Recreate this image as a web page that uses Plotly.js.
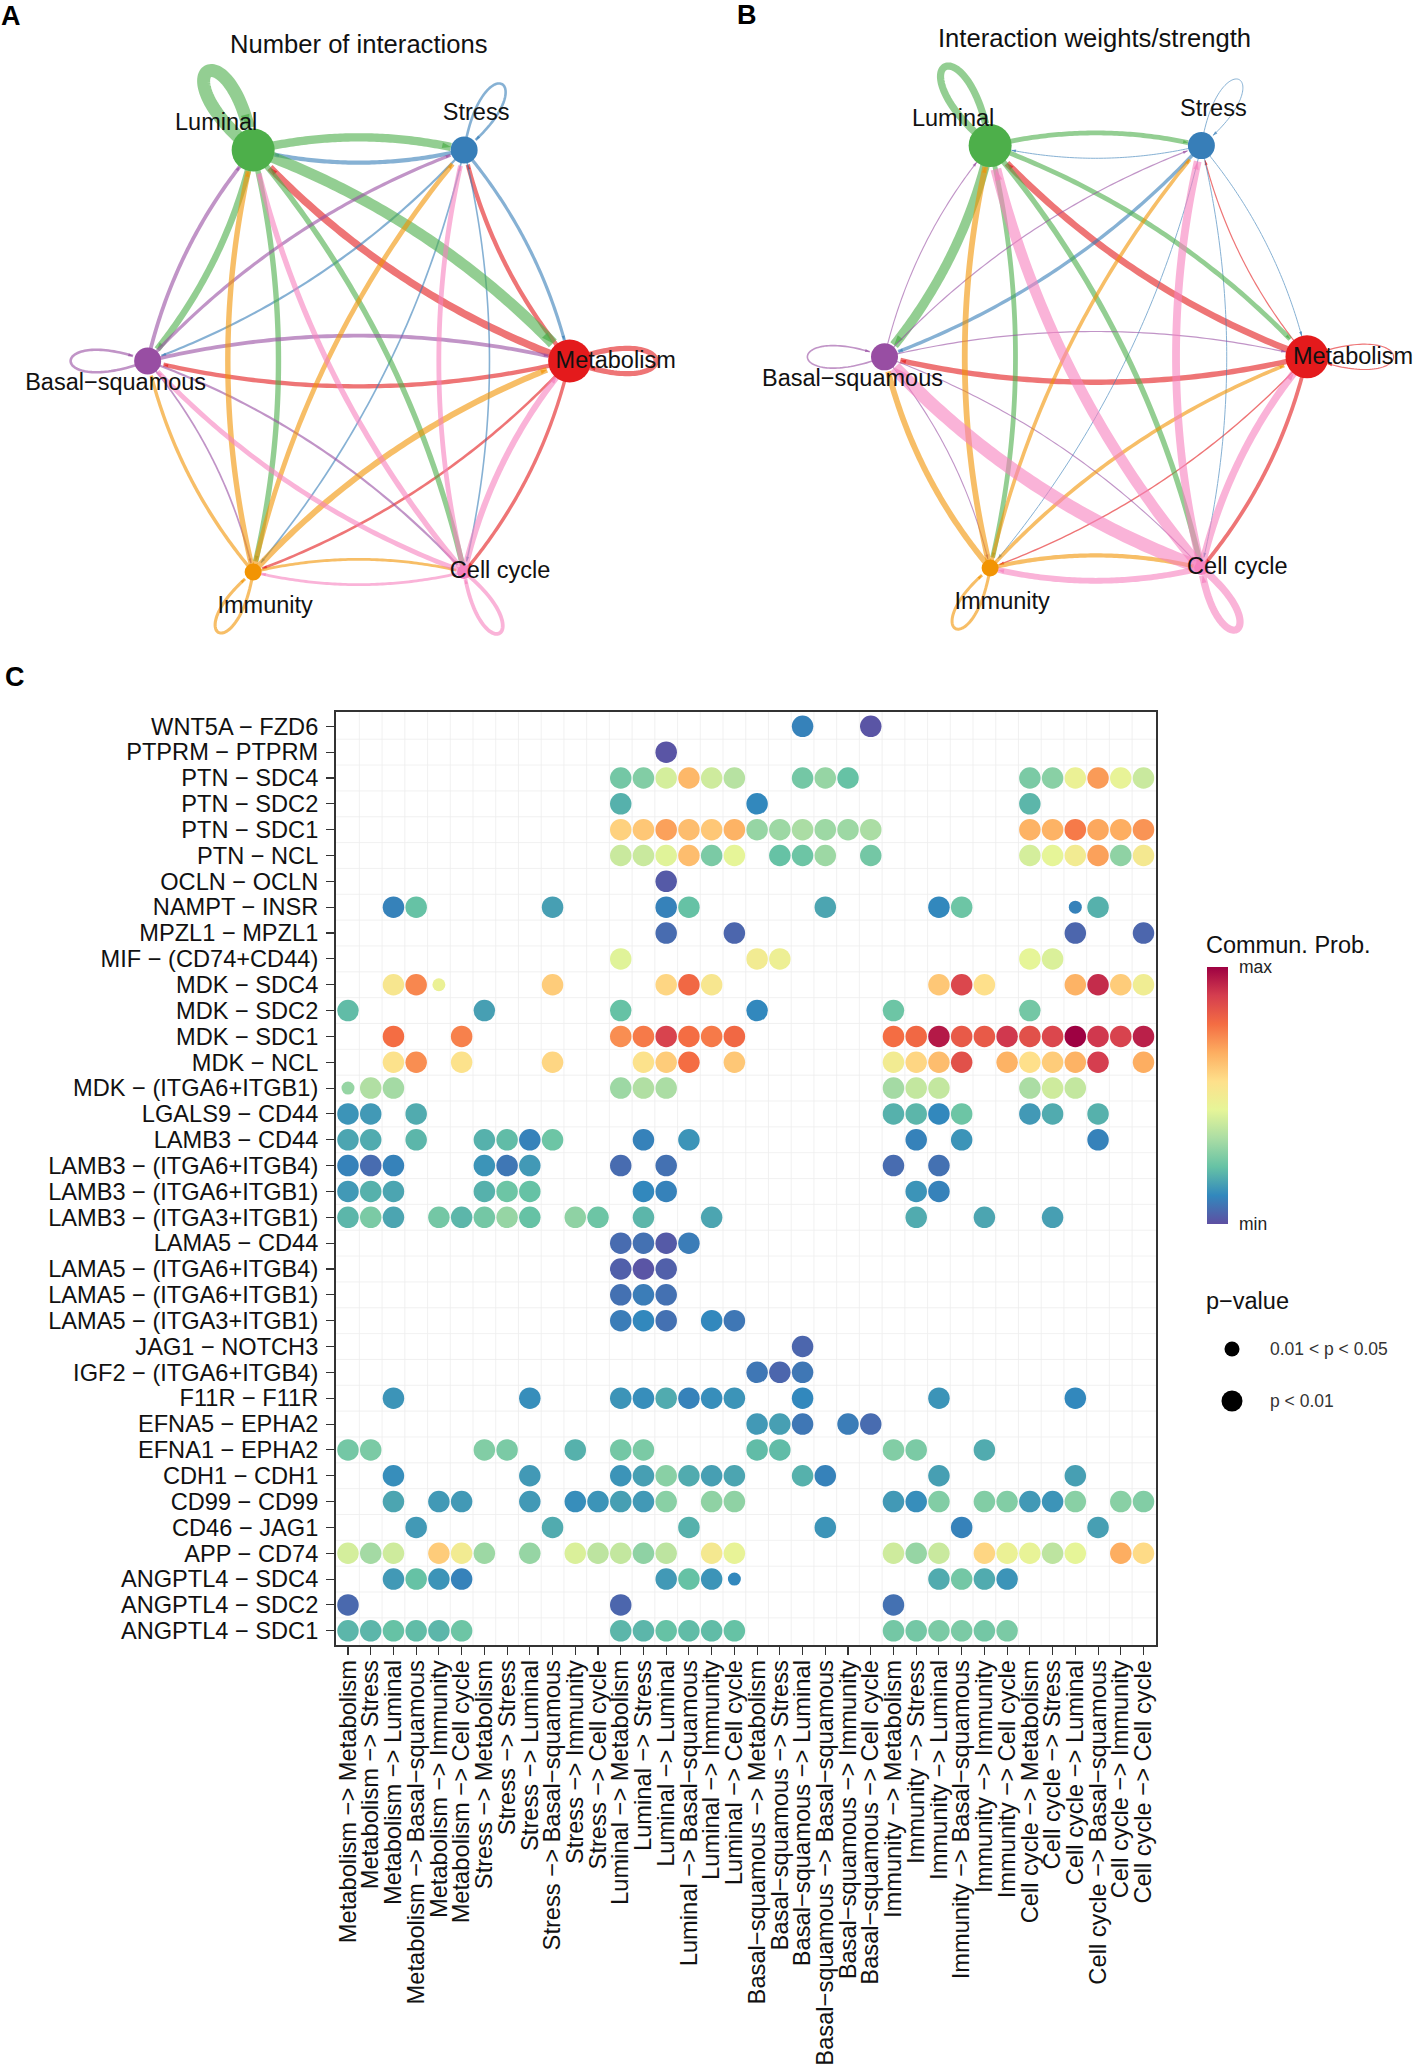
<!DOCTYPE html>
<html><head><meta charset="utf-8">
<script src="https://cdn.plot.ly/plotly-3.0.1.min.js"></script>
<style>html,body{margin:0;padding:0;background:#fff}</style></head>
<body><div id="chart" style="width:1417px;height:2072px"></div>
<script>
const W=1417,H=2072;
const FONT='"Liberation Sans", Arial, sans-serif';
// ---- network data
const nodeNames=['Metabolism','Stress','Luminal','Basal−squamous','Immunity','Cell cycle'];
const nodeColors=['#E41A1C','#377EB8','#4DAF4A','#984EA3','#F29403','#F781BF'];
const nodeX=[1,0.5,-0.5,-1,-0.5,0.5];
const nodeY=[0,1,1,0,-1,-1];
const nodeDiamA=[43,27,43,27,17,14];
const nodeDiamB=[43,27,43,27,17,14];
const loopAngle=[0,60,120,180,240,300];
const loopLength=[0.41,0.36,0.43,0.365,0.33,0.335];
const labelDx=[46,12,-37,-32,12,36];
const labelDy=[1.5,-35.5,-25.5,23.5,35,0];
// line widths, row = source, column = target (order of nodeNames)
const widthsA=[
 [5.2,4.3,7.4,4.3,2.6,3.4],
 [3.2,2.6,4.2,2.2,1.7,1.6],
 [11,8.4,13,6.6,5.4,5.4],
 [3.8,3.2,3.8,2.6,1.7,2.2],
 [6.0,4.8,5.4,3.4,3.1,2.8],
 [6.0,4.8,5.4,4.8,2.8,3.8]];
const widthsB=[
 [1.2,1.2,6.6,5.4,1.4,3.8],
 [1.0,1.0,1.0,3.4,1.0,1.0],
 [4.8,4.8,7.2,9.6,4.8,5.4],
 [1.2,1.2,1.1,1.6,1.1,1.1],
 [3.6,3.6,5.8,5.8,3.0,4.2],
 [7.2,7.8,10.8,13.2,5.8,7.2]];
// ---- bubble data
const rowLabels=['WNT5A − FZD6','PTPRM − PTPRM','PTN − SDC4','PTN − SDC2','PTN − SDC1','PTN − NCL','OCLN − OCLN','NAMPT − INSR','MPZL1 − MPZL1','MIF − (CD74+CD44)','MDK − SDC4','MDK − SDC2','MDK − SDC1','MDK − NCL','MDK − (ITGA6+ITGB1)','LGALS9 − CD44','LAMB3 − CD44','LAMB3 − (ITGA6+ITGB4)','LAMB3 − (ITGA6+ITGB1)','LAMB3 − (ITGA3+ITGB1)','LAMA5 − CD44','LAMA5 − (ITGA6+ITGB4)','LAMA5 − (ITGA6+ITGB1)','LAMA5 − (ITGA3+ITGB1)','JAG1 − NOTCH3','IGF2 − (ITGA6+ITGB4)','F11R − F11R','EFNA5 − EPHA2','EFNA1 − EPHA2','CDH1 − CDH1','CD99 − CD99','CD46 − JAG1','APP − CD74','ANGPTL4 − SDC4','ANGPTL4 − SDC2','ANGPTL4 − SDC1'];
const colLabels=[];
nodeNames.forEach(a=>nodeNames.forEach(b=>colLabels.push(a+' −> '+b)));
// per row: column index, score (0 = min ... 9 = max)
const rowCells=[
 [20,0.9,23,0.1],
 [14,0.1],
 [12,2.2,13,2.4,14,3.7,15,5.8,16,3.6,17,3.2,20,2.2,21,2.7,22,2.0,30,2.3,31,2.5,32,4.2,33,6.3,34,4.1,35,3.5],
 [12,1.7,18,1.0,30,1.8],
 [12,5.3,13,5.5,14,6.2,15,5.7,16,5.5,17,5.9,18,2.7,19,2.8,20,3.0,21,2.8,22,2.8,23,3.0,30,5.9,31,5.9,32,6.8,33,6.1,34,6.0,35,6.4],
 [12,3.5,13,3.5,14,3.9,15,5.7,16,2.3,17,4.0,19,2.0,20,2.1,21,2.8,23,2.2,30,3.7,31,4.0,32,4.5,33,6.2,34,2.6,35,4.6],
 [14,0.2],
 [2,0.9,3,2.0,9,1.4,14,0.9,15,2.0,21,1.5,26,1.0,27,2.1,32,0.9,33,1.7],
 [14,0.5,17,0.4,32,0.4,35,0.4],
 [12,3.9,18,4.5,19,4.3,30,4.0,31,3.8],
 [2,4.7,3,6.6,4,4.2,9,5.4,14,5.2,15,7.1,16,4.7,26,5.5,27,7.8,28,5.0,32,5.9,33,8.3,34,5.4,35,4.4],
 [0,1.9,6,1.4,12,2.0,18,1.0,24,2.1,30,2.2],
 [2,7.0,5,6.7,12,6.5,13,6.8,14,7.9,15,7.0,16,6.8,17,7.1,24,7.0,25,7.1,26,8.6,27,7.4,28,7.4,29,8.1,30,7.6,31,7.8,32,9.0,33,8.1,34,7.9,35,8.5],
 [2,4.9,3,6.5,5,4.9,9,5.2,13,4.9,14,5.4,15,7.0,17,5.5,24,4.5,25,5.2,26,5.7,27,7.6,29,5.9,30,5.0,31,5.4,32,5.9,33,8.0,35,6.0],
 [0,2.7,1,3.1,2,2.9,12,2.8,13,3.1,14,3.0,24,2.9,25,3.4,26,3.4,30,3.0,31,3.6,32,3.4],
 [0,1.2,1,1.3,3,1.6,24,1.7,25,1.8,26,1.0,27,2.1,30,1.3,31,1.6,33,1.7],
 [0,1.5,1,1.6,3,1.8,6,1.7,7,1.9,8,0.9,9,2.1,13,0.9,15,1.2,25,0.9,27,1.2,33,0.9],
 [0,0.9,1,0.5,2,0.9,6,1.2,7,0.7,8,1.3,12,0.5,14,0.6,24,0.5,26,0.6],
 [0,1.3,1,1.7,2,1.5,6,1.7,7,2.1,8,2.0,13,1.0,14,0.9,25,1.2,26,0.9],
 [0,1.8,1,2.3,2,1.5,4,2.2,5,1.8,6,2.2,7,2.7,8,2.0,10,2.6,11,2.1,13,1.8,16,1.5,25,1.6,28,1.5,31,1.4],
 [12,0.5,13,0.6,14,0.2,15,0.8],
 [12,0.3,13,0.1,14,0.3],
 [12,0.6,13,0.8,14,0.6],
 [12,0.8,13,1.0,14,0.6,16,1.0,17,0.7],
 [20,0.4],
 [18,0.7,19,0.4,20,0.7],
 [2,1.2,8,1.1,12,1.2,13,1.1,14,1.6,15,0.9,16,1.1,17,1.2,20,1.0,26,1.2,32,1.0],
 [18,1.3,19,1.4,20,0.7,22,0.8,23,0.5],
 [0,2.2,1,2.3,6,2.4,7,2.3,10,1.7,12,2.2,13,2.3,18,1.9,19,1.9,24,2.4,25,2.3,28,1.6],
 [2,1.1,8,1.3,12,1.2,13,1.4,14,2.5,15,1.6,16,1.4,17,1.5,20,1.7,21,0.9,26,1.4,32,1.4],
 [2,1.5,4,1.3,5,1.3,8,1.3,10,1.1,11,1.2,12,1.4,13,1.3,14,2.5,16,2.6,17,2.6,24,1.3,25,1.1,26,2.4,28,2.4,29,2.4,30,1.3,31,1.2,32,2.5,34,2.5,35,2.4],
 [3,1.3,9,1.6,15,1.7,21,1.2,27,0.9,33,1.4],
 [0,3.7,1,2.9,2,3.6,4,5.4,5,4.5,6,2.8,8,2.7,10,3.8,11,3.3,12,3.4,13,2.6,14,3.3,16,4.6,17,4.1,24,3.6,25,2.7,26,3.5,28,5.2,29,4.2,30,4.1,31,3.3,32,4.0,34,6.0,35,5.1],
 [2,1.3,3,2.0,4,1.2,5,0.9,14,1.3,15,2.0,16,1.2,17,1.0,26,1.6,27,2.2,28,1.6,29,1.2],
 [0,0.45,12,0.4,24,0.6],
 [0,1.8,1,1.8,2,2.0,3,1.9,4,1.8,5,2.1,12,1.8,13,1.8,14,2.0,15,1.9,16,1.9,17,2.0,24,2.2,25,2.2,26,2.3,27,2.3,28,2.2,29,2.3]];
// significance 0.01 < p < 0.05 (row, column)
const smallCells=[[10,4],[14,0],[7,32],[33,17]];
const spectral=['#5E4FA2','#3288BD','#66C2A5','#ABDDA4','#E6F598','#FEE08B','#FDAE61','#F46D43','#D53E4F','#9E0142'];
const pLabels=['0.01 < p < 0.05','p < 0.01'];
const pSizes=[15,21];

// ---- page geometry helpers
const pxX=x=>x/W, pxY=y=>1-y/H;
const unitA=211, unitB=211.25, span=1.45;
const panels=[
 {x:'x2',y:'y2',xa:'xaxis2',ya:'yaxis2',cx:358.65,cy:361,u:unitA,w:widthsA,d:nodeDiamA},
 {x:'x3',y:'y3',xa:'xaxis3',ya:'yaxis3',cx:1095.75,cy:356.85,u:unitB,w:widthsB,d:nodeDiamB}];
const data=[];
const layout={width:W,height:H,margin:{l:0,r:0,t:0,b:0},paper_bgcolor:'#fff',plot_bgcolor:'rgba(0,0,0,0)',showlegend:false,font:{family:FONT,color:'#000',size:23},shapes:[],annotations:[]};

function trim(pts,tx,ty,r){
 const out=[];
 for(const p of pts){ if(Math.hypot(p[0]-tx,p[1]-ty)>=r) out.push(p); else if(out.length) break; }
 return out;
}
panels.forEach(P=>{
 const hid={visible:false,fixedrange:true,range:[-span,span]};
 layout[P.xa]=Object.assign({},hid,{domain:[pxX(P.cx-P.u*span),pxX(P.cx+P.u*span)],anchor:P.y});
 layout[P.ya]=Object.assign({},hid,{domain:[pxY(P.cy+P.u*span),pxY(P.cy-P.u*span)],anchor:P.x});
 for(let s=0;s<6;s++){ for(let t=0;t<6;t++){
   const w=P.w[s][t]; let pts=[];
   const N=80;
   if(s===t){
     const a=loopAngle[s]*Math.PI/180, L=loopLength[s]/0.75, c=L*0.38;
     const ux=Math.cos(a),uy=Math.sin(a),vx=-uy,vy=ux;
     const p1=[nodeX[s]+L*ux+c*vx,nodeY[s]+L*uy+c*vy], p2=[nodeX[s]+L*ux-c*vx,nodeY[s]+L*uy-c*vy];
     for(let i=0;i<=N;i++){const q=i/N,m=1-q;
       pts.push([m*m*m*nodeX[s]+3*m*m*q*p1[0]+3*m*q*q*p2[0]+q*q*q*nodeX[s],
                 m*m*m*nodeY[s]+3*m*m*q*p1[1]+3*m*q*q*p2[1]+q*q*q*nodeY[s]]);}
   } else {
     const dx=nodeX[t]-nodeX[s],dy=nodeY[t]-nodeY[s];
     const mx=(nodeX[s]+nodeX[t])/2-0.12*dy, my=(nodeY[s]+nodeY[t])/2+0.12*dx;
     for(let i=0;i<=N;i++){const q=i/N,m=1-q;
       pts.push([m*m*nodeX[s]+2*m*q*mx+q*q*nodeX[t], m*m*nodeY[s]+2*m*q*my+q*q*nodeY[t]]);}
   }
   // stop at the rim of the target vertex
   const r=(P.d[t]/2-1)/P.u;
   if(s===t){ const k=Math.floor(pts.length/2);
     pts=pts.slice(0,k).concat(trim(pts.slice(k),nodeX[t],nodeY[t],r)); }
   else pts=trim(pts,nodeX[t],nodeY[t],r);
   data.push({type:'scatter',mode:'lines',xaxis:P.x,yaxis:P.y,hoverinfo:'skip',opacity:0.6,
     x:pts.map(p=>p[0]),y:pts.map(p=>p[1]),
     line:{color:nodeColors[s],width:w,shape:'linear',simplify:false}});
   const tail=pts.slice(-2);
   data.push({type:'scatter',mode:'markers',xaxis:P.x,yaxis:P.y,hoverinfo:'skip',opacity:0.7,
     x:tail.map(p=>p[0]),y:tail.map(p=>p[1]),
     marker:{symbol:'arrow',angleref:'previous',size:[0,Math.max(5,w*1.1)],opacity:1,color:nodeColors[s],line:{width:0}}});
 }}
 data.push({type:'scatter',mode:'markers',xaxis:P.x,yaxis:P.y,hoverinfo:'skip',x:nodeX,y:nodeY,
   marker:{size:P.d,opacity:1,color:nodeColors,line:{width:0}}});
 data.push({type:'scatter',mode:'text',xaxis:P.x,yaxis:P.y,hoverinfo:'skip',cliponaxis:false,
   x:nodeX.map((v,i)=>v+labelDx[i]/P.u),y:nodeY.map((v,i)=>v-labelDy[i]/P.u),
   text:nodeNames,textposition:'middle center',textfont:{family:FONT,size:23.5,color:'#111'}});
});

// ---- bubble panel
const bx=[],by=[],bc=[],bs=[];
rowCells.forEach((cells,r)=>{ for(let i=0;i<cells.length;i+=2){
  bx.push(colLabels[cells[i]]);by.push(rowLabels[r]);bc.push(cells[i+1]);
  bs.push(smallCells.some(c=>c[0]===r&&c[1]===cells[i])?13:21.5);
}});
data.push({type:'scatter',mode:'markers',x:bx,y:by,xaxis:'x',yaxis:'y',hoverinfo:'skip',cliponaxis:false,
 marker:{size:bs,color:bc,cmin:0,cmax:9,line:{width:0},opacity:1,
  colorscale:spectral.map((c,i)=>[i/9,c]),
  colorbar:{x:pxX(1207),xanchor:'left',y:pxY(1095.5),yanchor:'middle',thickness:21,thicknessmode:'pixels',len:257,lenmode:'pixels',
   xpad:0,ypad:0,outlinewidth:0,ticks:'outside',ticklen:8,tickcolor:'rgba(0,0,0,0)',tickmode:'array',tickvals:[0,9],ticktext:['min','max'],
   tickfont:{family:FONT,size:17.5,color:'#222'}}}});
const L=335.6,R=1156.3,T=711.7,B=1645;
const axisCommon={type:'category',fixedrange:true,showgrid:false,zeroline:false,showline:true,linecolor:'#333',linewidth:1.6,mirror:true,
 ticks:'outside',ticklen:8,tickwidth:1.1,tickcolor:'#333',automargin:false};
layout.xaxis=Object.assign({},axisCommon,{domain:[pxX(L),pxX(R)],anchor:'y',categoryorder:'array',categoryarray:colLabels,
 tickmode:'array',tickvals:colLabels,ticktext:colLabels,tickfont:{family:FONT,size:23.7,color:'#111'},
 range:[-0.545,35.563],tickangle:-90,ticklabelstandoff:-4});
layout.yaxis=Object.assign({},axisCommon,{domain:[pxY(B),pxY(T)],anchor:'x',categoryorder:'array',categoryarray:rowLabels,
 tickmode:'array',tickvals:rowLabels,ticktext:rowLabels,tickfont:{family:FONT,size:23.6,color:'#111'},
 range:[35.55,-0.565],ticklabelstandoff:3});
colLabels.slice(1).forEach((_,i)=>layout.shapes.push({type:'line',layer:'below',xref:'x',yref:'paper',x0:i+0.5,x1:i+0.5,y0:pxY(B),y1:pxY(T),line:{color:'#ededed',width:0.8}}));
rowLabels.slice(1).forEach((_,i)=>layout.shapes.push({type:'line',layer:'below',xref:'paper',yref:'y',y0:i+0.5,y1:i+0.5,x0:pxX(L),x1:pxX(R),line:{color:'#ededed',width:0.8}}));

// ---- p-value legend
layout.xaxis4={visible:false,fixedrange:true,domain:[pxX(1212),pxX(1252)],range:[-1,1],anchor:'y4'};
layout.yaxis4={visible:false,fixedrange:true,type:'category',domain:[pxY(1427.3),pxY(1322.7)],range:[1.505,-0.505],anchor:'x4'};
data.push({type:'scatter',mode:'markers',xaxis:'x4',yaxis:'y4',hoverinfo:'skip',x:pLabels.map(()=>0),y:pLabels,marker:{size:pSizes,opacity:1,color:'#000',line:{width:0}}});

function note(text,x,y,size,opts){
 layout.annotations.push(Object.assign({text:text,x:pxX(x),y:pxY(y),xref:'paper',yref:'paper',showarrow:false,xanchor:'center',yanchor:'middle',
  font:{family:FONT,size:size,color:'#111'}},opts||{}));
}
note('<b>A</b>',11,16,27,{font:{family:FONT,size:27,color:'#000'}});
note('<b>B</b>',747,15,27,{font:{family:FONT,size:27,color:'#000'}});
note('<b>C</b>',15,677,27,{font:{family:FONT,size:27,color:'#000'}});
note('Number of interactions',358.7,44,25.6);
note('Interaction weights/strength',1094.6,38,25.6);
note('Commun. Prob.',1204,945,23.5,{xanchor:'left'});
note('p−value',1204,1301,23.5,{xanchor:'left'});
note(pLabels[0],1268,1349,17.5,{xanchor:'left',font:{family:FONT,size:17.5,color:'#333'}});
note(pLabels[1],1268,1401,17.5,{xanchor:'left',font:{family:FONT,size:17.5,color:'#333'}});

Plotly.newPlot('chart',data,layout,{displayModeBar:false,staticPlot:true});
</script></body></html>
